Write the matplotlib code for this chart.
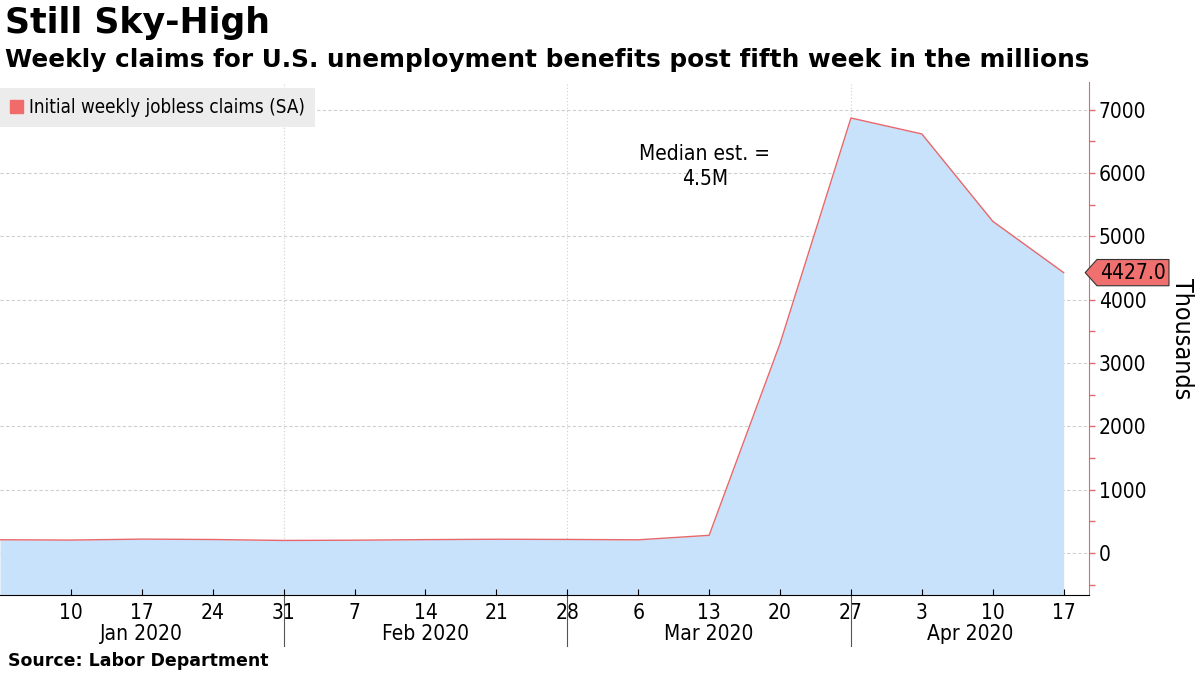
import pandas as pd
import matplotlib.pyplot as plt
import matplotlib.dates as mdates
import matplotlib.transforms as mtransforms
from matplotlib.patches import Patch
from matplotlib.path import Path

# weekly initial jobless claims, thousands (SA)
dates = pd.to_datetime([
    '2020-01-03', '2020-01-10', '2020-01-17', '2020-01-24', '2020-01-31',
    '2020-02-07', '2020-02-14', '2020-02-21', '2020-02-28', '2020-03-06',
    '2020-03-13', '2020-03-20', '2020-03-27', '2020-04-03', '2020-04-10',
    '2020-04-17'])
claims = [212, 207, 222, 216, 201, 205, 214, 220, 217, 211,
          282, 3307, 6867, 6615, 5237, 4427]

month_edges = pd.to_datetime(['2020-01-31', '2020-02-28', '2020-03-27'])
month_names = ['Jan 2020', 'Feb 2020', 'Mar 2020', 'Apr 2020']
yticks = [0, 1000, 2000, 3000, 4000, 5000, 6000, 7000]

LINE = '#e8676b'
FILL = '#c9e2fb'
TICKFONT = dict(family='DejaVu Sans', stretch='condensed')


def tag_box(x0, y0, width, height, mutation_size):
    # box with a pointed left side, like a price tag
    pad = mutation_size * 0.15
    x0, y0 = x0 - pad, y0 - pad
    width, height = width + 2 * pad, height + 2 * pad
    tip = height * 0.45
    verts = [(x0, y0), (x0 + width, y0), (x0 + width, y0 + height),
             (x0, y0 + height), (x0 - tip, y0 + height / 2), (x0, y0)]
    codes = [Path.MOVETO] + [Path.LINETO] * 4 + [Path.CLOSEPOLY]
    return Path(verts, codes)


fig = plt.figure(figsize=(12, 6.75), dpi=100)
ax = fig.add_axes([0.0, 0.1185, 0.9075, 0.7605])

x_left = pd.Timestamp('2020-01-03')
x_right = pd.Timestamp('2020-04-19 12:00')
ymin, ymax = -660, 7440

ax.fill_between(dates, claims, ymin, color=FILL, lw=0)
ax.plot(dates, claims, color=LINE, lw=1)

ax.set_xlim(x_left, x_right)
ax.set_ylim(ymin, ymax)

# grid
for y in yticks:
    ax.axhline(y, color='#cfcfcf', lw=0.8, ls=(0, (3, 2)), zorder=0.5)
for d in month_edges:
    ax.axvline(d, color='#cfcfcf', lw=0.8, ls=(0, (1, 2)), zorder=0.5)

# spines
for s in ['left', 'top']:
    ax.spines[s].set_visible(False)
ax.spines['bottom'].set_color('black')
ax.spines['right'].set_color(LINE)

# y axis on right
ax.yaxis.tick_right()
ax.set_yticks(yticks)
ax.set_yticks(range(-500, 7500, 1000), minor=True)
ax.tick_params(axis='y', which='both', colors=LINE, length=4, width=1, labelcolor='black', pad=3)
for lab in ax.get_yticklabels():
    lab.set_fontsize(15)
    lab.set_fontstretch('condensed')
ax.yaxis.set_label_position('right')
ax.set_ylabel('Thousands', rotation=270, fontsize=18, labelpad=34, **TICKFONT)

# x axis weekly ticks (first week sits on the left edge, unlabelled)
ax.set_xticks(dates[1:])
ax.xaxis.set_major_formatter(mdates.DateFormatter('%-d'))
ax.tick_params(axis='x', direction='in', length=4, pad=6)
for lab in ax.get_xticklabels():
    lab.set_fontsize(15)
    lab.set_fontstretch('condensed')

# month separators and labels under the axis
trans = mtransforms.blended_transform_factory(ax.transData, ax.transAxes)
for d in month_edges:
    ax.plot([d, d], [0, -0.1], transform=trans, color='#555555', lw=0.8, clip_on=False)
edges = [x_left] + list(month_edges) + [x_right]
for i, name in enumerate(month_names):
    mid = edges[i] + (edges[i + 1] - edges[i]) / 2
    ax.text(mid, -0.075, name, transform=trans, ha='center', va='center', fontsize=15, **TICKFONT)

# annotation
ax.text(pd.Timestamp('2020-03-12 14:00'), 6100, 'Median est. =\n4.5M', ha='center', va='center',
        fontsize=15, linespacing=1.3, **TICKFONT)

# last value tag
ax.annotate(f'{claims[-1]:.1f}', xy=(1.0, claims[-1]),
            xycoords=mtransforms.blended_transform_factory(ax.transAxes, ax.transData),
            xytext=(8, 0), textcoords='offset points', ha='left', va='center',
            fontsize=15, **TICKFONT,
            bbox=dict(boxstyle=tag_box, fc='#f07070', ec='#333333', lw=0.8))

# legend
leg = ax.legend(handles=[Patch(color='#f26b6b')], labels=['Initial weekly jobless claims (SA)'],
                loc='upper left', bbox_to_anchor=(0.0, 0.988), borderaxespad=0, frameon=True,
                handlelength=0.7, handleheight=0.7, handletextpad=0.3, borderpad=0.55,
                fancybox=False, prop=dict(family='DejaVu Sans', stretch='condensed', size=13.5))
leg.get_frame().set_facecolor('#ececec')
leg.get_frame().set_edgecolor('none')
leg.get_frame().set_alpha(1)

# titles and source
fig.text(0.004, 0.966, 'Still Sky-High', fontsize=25, fontweight='bold', va='center')
fig.text(0.004, 0.911, 'Weekly claims for U.S. unemployment benefits post fifth week in the millions',
         fontsize=17.8, fontweight='bold', va='center')
fig.text(0.007, 0.021, 'Source: Labor Department', fontsize=12.5, fontweight='bold', va='center')

fig.savefig('out.png', dpi=100)
